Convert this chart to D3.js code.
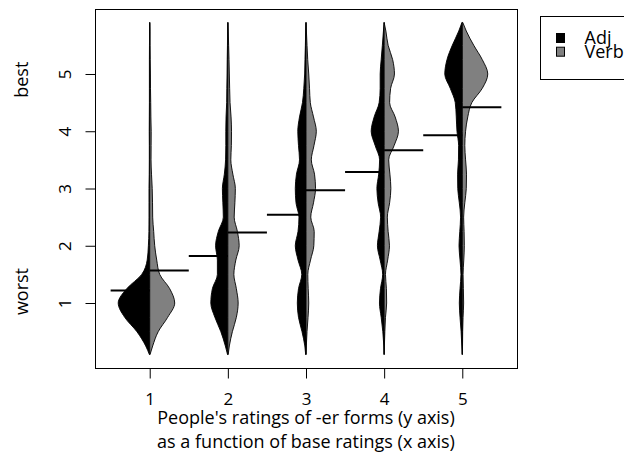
<!DOCTYPE html>
<html>
<head>
<meta charset="utf-8">
<script src="https://cdnjs.cloudflare.com/ajax/libs/d3/7.8.5/d3.min.js"></script>
<style>
  body { margin: 0; background: #fff; }
  svg { display: block; font-family: "Open Sans", Lato, sans-serif; }
</style>
</head>
<body>
<svg id="chart" width="624" height="455"></svg>
<script>
// base ratings on the x axis, one split bean per rating
const ratings = [1, 2, 3, 4, 5];
const groups = ["Adj", "Verb"];
const groupColors = ["#000000", "#808080"];
const yTicks = [1, 2, 3, 4, 5];

// y values where the bean half-widths were read (width in x-axis units)
const levels = [0.1, 0.25, 0.5, 0.75, 1, 1.25, 1.5, 1.75, 2, 2.25, 2.5, 2.75, 3,
                3.25, 3.5, 3.75, 4, 4.25, 4.5, 4.75, 5, 5.25, 5.5, 5.75, 5.9];

const adjBeans = [
  [0.004, 0.051, 0.164, 0.32, 0.403, 0.294, 0.102, 0.032, 0.017, 0.01, 0.009, 0.009, 0.009, 0.006, 0.005, 0.005, 0.006, 0.005, 0.004, 0.004, 0.004, 0.004, 0.003, 0.001, 0],
  [0.004, 0.032, 0.09, 0.166, 0.218, 0.198, 0.134, 0.134, 0.157, 0.122, 0.058, 0.064, 0.07, 0.045, 0.029, 0.026, 0.026, 0.023, 0.015, 0.013, 0.01, 0.008, 0.005, 0.003, 0],
  [0.004, 0.015, 0.051, 0.096, 0.111, 0.096, 0.054, 0.102, 0.137, 0.102, 0.09, 0.128, 0.137, 0.122, 0.083, 0.096, 0.105, 0.083, 0.045, 0.028, 0.017, 0.013, 0.008, 0.004, 0],
  [0, 0.004, 0.017, 0.038, 0.06, 0.047, 0.019, 0.051, 0.086, 0.064, 0.045, 0.077, 0.093, 0.07, 0.058, 0.115, 0.166, 0.128, 0.064, 0.051, 0.051, 0.038, 0.023, 0.009, 0],
  [0, 0.006, 0.015, 0.029, 0.038, 0.029, 0.017, 0.029, 0.042, 0.032, 0.022, 0.038, 0.058, 0.06, 0.049, 0.047, 0.068, 0.077, 0.09, 0.154, 0.224, 0.196, 0.128, 0.045, 0.004]
];
const verbBeans = [
  [0.004, 0.038, 0.109, 0.23, 0.32, 0.256, 0.128, 0.09, 0.064, 0.051, 0.038, 0.036, 0.032, 0.023, 0.017, 0.018, 0.019, 0.015, 0.013, 0.01, 0.009, 0.006, 0.004, 0.003, 0],
  [0.004, 0.019, 0.058, 0.109, 0.132, 0.109, 0.077, 0.102, 0.145, 0.122, 0.081, 0.09, 0.096, 0.064, 0.038, 0.045, 0.047, 0.041, 0.028, 0.023, 0.019, 0.015, 0.01, 0.005, 0],
  [0, 0.004, 0.013, 0.026, 0.035, 0.028, 0.023, 0.058, 0.1, 0.105, 0.061, 0.096, 0.122, 0.109, 0.068, 0.102, 0.132, 0.096, 0.055, 0.045, 0.035, 0.022, 0.013, 0.005, 0],
  [0, 0.003, 0.009, 0.017, 0.032, 0.029, 0.017, 0.045, 0.068, 0.051, 0.041, 0.07, 0.086, 0.074, 0.058, 0.128, 0.183, 0.141, 0.07, 0.083, 0.132, 0.109, 0.051, 0.022, 0],
  [0, 0.003, 0.005, 0.01, 0.017, 0.014, 0.01, 0.019, 0.026, 0.023, 0.017, 0.032, 0.051, 0.054, 0.042, 0.032, 0.042, 0.07, 0.122, 0.256, 0.326, 0.256, 0.147, 0.051, 0.006]
];

// group means (the horizontal bars)
const adjMeans = [1.22, 1.82, 2.54, 3.29, 3.93];
const verbMeans = [1.57, 2.23, 2.97, 3.67, 4.42];

const titleLines = ["People's ratings of -er forms (y axis)", "as a function of base ratings (x axis)"];
const scaleWords = ["best", "worst"];
const scaleWordAt = [4.9, 1.2];

const width = 624, height = 455;
const margin = {top: 9, right: 107, bottom: 87, left: 95};
const fontSize = 18;

const svg = d3.select("#chart");

const x = d3.scaleLinear().domain([0.3, 5.7]).range([margin.left, width - margin.right]);
const y = d3.scaleLinear().domain([-0.135, 6.135]).range([height - margin.bottom, margin.top]);

// beans
const beanArea = side => d3.area()
  .curve(d3.curveMonotoneY)
  .y(d => y(d.level))
  .x0(d => x(d.rating))
  .x1(d => x(d.rating + side * d.w));

[adjBeans, verbBeans].forEach((beans, gi) => {
  const side = gi === 0 ? -1 : 1;
  svg.append("g")
    .selectAll("path")
    .data(ratings.map((r, i) => levels.map((lv, j) => ({rating: r, level: lv, w: beans[i][j]}))))
    .enter().append("path")
    .attr("d", beanArea(side))
    .style("fill", groupColors[gi])
    .style("stroke", "#000")
    .style("stroke-width", 0.9)
    .style("stroke-linejoin", "round");
});

// mean bars, half a category wide on each side
[adjMeans, verbMeans].forEach((means, gi) => {
  const side = gi === 0 ? -1 : 1;
  svg.append("g")
    .selectAll("line")
    .data(means)
    .enter().append("line")
    .attr("x1", (d, i) => x(ratings[i]))
    .attr("x2", (d, i) => x(ratings[i] + side * 0.5))
    .attr("y1", d => y(d))
    .attr("y2", d => y(d))
    .style("stroke", "#000")
    .style("stroke-width", 2);
});

// plot box
svg.append("rect")
  .attr("x", margin.left + 0.5)
  .attr("y", margin.top + 0.5)
  .attr("width", width - margin.left - margin.right)
  .attr("height", height - margin.top - margin.bottom)
  .style("fill", "none")
  .style("stroke", "#000")
  .style("stroke-width", 1);

// axes
const xAxis = svg.append("g")
  .attr("transform", "translate(0," + (height - margin.bottom + 0.5) + ")")
  .call(d3.axisBottom(x).tickValues(ratings).tickFormat(d3.format("d"))
    .tickSize(10).tickPadding(14.5).tickSizeOuter(0));
const yAxis = svg.append("g")
  .attr("transform", "translate(" + (margin.left + 0.5) + ",0)")
  .call(d3.axisLeft(y).tickValues(yTicks).tickFormat(d3.format("d"))
    .tickSize(10).tickSizeOuter(0));

[xAxis, yAxis].forEach(a => {
  a.attr("font-family", null).attr("font-size", 17);
  a.select(".domain").remove();
  a.selectAll("line").style("stroke", "#000");
  a.selectAll("text").style("fill", "#000");
});
yAxis.selectAll("text")
  .attr("x", null).attr("dy", null)
  .attr("text-anchor", "middle")
  .attr("transform", "translate(-25,0) rotate(-90)");

// words next to the y axis
svg.append("g")
  .selectAll("text")
  .data(scaleWords)
  .enter().append("text")
  .attr("transform", (d, i) => "translate(28," + y(scaleWordAt[i]) + ") rotate(-90)")
  .attr("text-anchor", "middle")
  .style("font-size", fontSize + "px")
  .text(d => d);

// x title, two lines
svg.append("g")
  .selectAll("text")
  .data(titleLines)
  .enter().append("text")
  .attr("x", (x.range()[0] + x.range()[1]) / 2)
  .attr("y", (d, i) => 424 + i * 24)
  .attr("text-anchor", "middle")
  .style("font-size", fontSize + "px")
  .text(d => d);

// legend (cut by the right edge like the original)
const legend = svg.append("g").attr("transform", "translate(540.5,16.5)");
legend.append("rect")
  .attr("width", 100).attr("height", 63)
  .style("fill", "#fff").style("stroke", "#000");
const item = legend.selectAll(".item")
  .data(groups)
  .enter().append("g")
  .attr("class", "item")
  .attr("transform", (d, i) => "translate(16," + (17 + i * 13.7) + ")");
item.append("rect")
  .attr("width", 8).attr("height", 9)
  .style("fill", (d, i) => groupColors[i])
  .style("stroke", "#000");
item.append("text")
  .attr("x", 28).attr("y", 10.5)
  .style("font-size", fontSize + "px")
  .text(d => d);
</script>
</body>
</html>
